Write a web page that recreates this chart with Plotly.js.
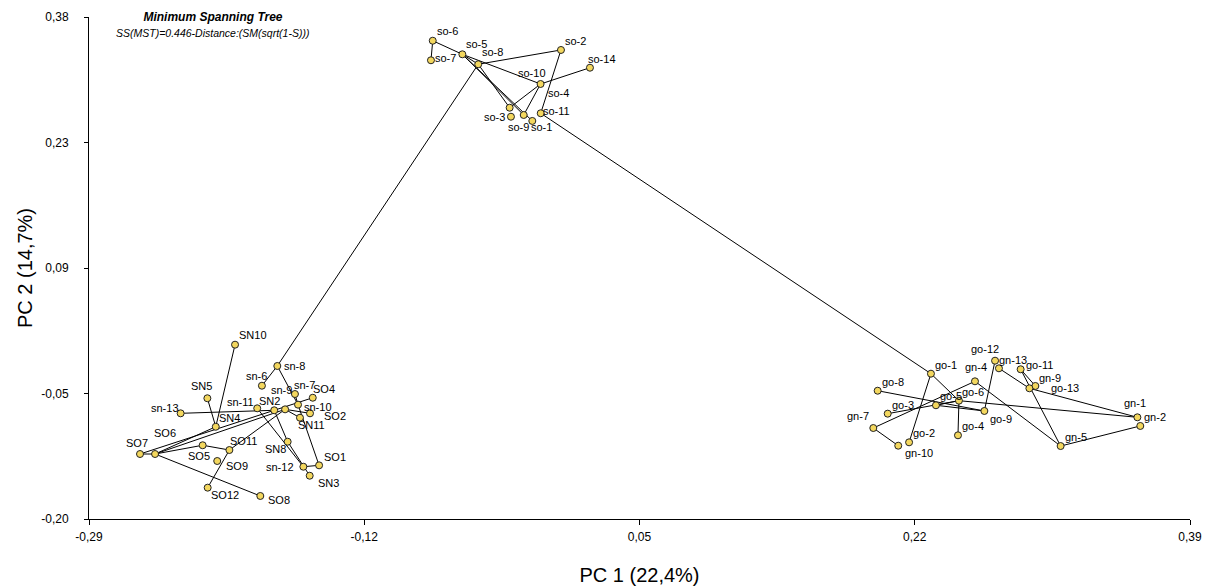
<!DOCTYPE html>
<html>
<head>
<meta charset="utf-8">
<script src="https://cdn.plot.ly/plotly-3.0.1.min.js"></script>
<style>html,body{margin:0;padding:0;background:#fff;}#chart{width:1214px;height:586px;}</style>
</head>
<body>
<div id="chart"></div>
<script>
// ---- data (PC scores) ----
const names = [
  'SN10','sn-8','sn-6','sn-7','SO4','sn-10','SO2','sn-9','SN2','sn-11','SN11','SN8','sn-12','SO1','SN3',
  'SN5','sn-13','SN4','SO7','SO6','SO5','SO11','SO9','SO12','SO8',
  'so-6','so-7','so-5','so-8','so-2','so-14','so-10','so-4','so-3','so-9','so-1','so-11',
  'go-1','go-8','gn-4','go-6','go-5','go-3','gn-7','go-9','go-4','go-2','gn-10','go-12','gn-13','go-11','gn-9','go-13','gn-1','gn-2','gn-5'
];
const pc1 = [
  -0.1998,-0.1737,-0.1832,-0.1628,-0.1518,-0.1609,-0.1535,-0.1689,-0.1756,-0.1861,-0.1597,-0.1673,-0.1576,-0.1479,-0.1537,
  -0.2169,-0.2334,-0.2117,-0.2585,-0.2492,-0.2198,-0.2033,-0.2108,-0.2167,-0.1842,
  -0.0777,-0.0788,-0.0594,-0.0496,0.0015,0.0194,-0.0111,-0.0302,-0.0294,-0.0215,-0.0162,-0.0110,
  0.2300,0.1971,0.2572,0.2473,0.2331,0.2033,0.1944,0.2630,0.2467,0.2165,0.2098,0.2696,0.2720,0.2854,0.2945,0.2908,0.3575,0.3593,0.3101
];
const pc2 = [
  0.0014,-0.0232,-0.0460,-0.0556,-0.0599,-0.0679,-0.0779,-0.0733,-0.0744,-0.0721,-0.0830,-0.1107,-0.1396,-0.1380,-0.1500,
  -0.0605,-0.0779,-0.0934,-0.1249,-0.1249,-0.1148,-0.1203,-0.1330,-0.1638,-0.1734,
  0.3526,0.3300,0.3369,0.3254,0.3419,0.3214,0.3026,0.2752,0.2648,0.2668,0.2599,0.2688,
  -0.0321,-0.0518,-0.0409,-0.0633,-0.0686,-0.0783,-0.0949,-0.0752,-0.1033,-0.1114,-0.1153,-0.0171,-0.0259,-0.0270,-0.0463,-0.0490,-0.0825,-0.0925,-0.1157
];
// minimum spanning tree links
const edgeFrom = [
  'so-6','so-6','so-5','so-5','so-8','so-5','so-5','so-8','so-10','so-10','so-10','so-2','so-11','so-8',
  'sn-8','sn-8','sn-10','SN10','SN5','sn-13','SO7','SO7','SO6','SO6','SO6','SO5','SO11','SO11','SO6','SN2','sn-9','sn-10','SN2','SN8','sn-11','sn-12','sn-9',
  'go-1','go-1','go-8','go-3','go-5','go-5','gn-7','gn-7','gn-4','go-6','go-9','go-6','gn-13','go-11','go-11','go-13','gn-2'
];
const edgeTo = [
  'so-7','so-5','so-10','so-8','so-2','so-9','so-1','so-4','so-4','so-9','so-14','so-11','go-1','sn-8',
  'sn-6','sn-10','sn-7','SN4','SN4','SN2','SO6','SN2','sn-9','SN4','SO5','SO11','SO12','sn-9','SO8','SO4','SO2','SO1','SN8','SN3','sn-12','SO1','SN11',
  'go-6','go-2','go-9','go-6','go-9','go-6','gn-4','gn-10','gn-5','go-4','go-12','gn-1','go-13','gn-9','gn-5','gn-1','gn-5'
];
// tick labels
const xTickVals = [-0.29, -0.12, 0.05, 0.22, 0.39];
const xTickText = ['-0,29', '-0,12', '0,05', '0,22', '0,39'];
const yTickVals = [-0.20, -0.055, 0.09, 0.235, 0.38];
const yTickText = ['-0,20', '-0,05', '0,09', '0,23', '0,38'];

// ---- label placement (pixel offsets from each point, style only) ----
const labelDx = [
  18,17,-5,10,11,20,25,-4,-5,-17,12,-12,-23,16,19,
  -6,-16,14,-3,10,-4,14,20,17,19,
  15,15,14,14,15,12,-9,49,-16,-5,9,16,
  15,15,1,14,15,15,-15,17,15,15,21,-10,14,19,15,36,-2,15,15
];
const labelDy = [
  -10,0,-10,-9,-9,2,3,-19,-9,-6,7,7,0,-8,7,
  -12,-5,-9,-11,-21,11,-9,5,7,4,
  -10,-2,-10,-12,-9,-9,-11,-15,0,12,6,-2,
  -9,-9,-14,-9,-9,-9,-12,8,-9,-9,7,-12,-8,-4,-8,0,-14,-9,-9
];

const idx = {};
names.forEach((n, i) => idx[n] = i);
const ex = [], ey = [];
edgeFrom.forEach((a, k) => {
  const b = edgeTo[k];
  ex.push(pc1[idx[a]], pc1[idx[b]], null);
  ey.push(pc2[idx[a]], pc2[idx[b]], null);
});

const FONT = 'Liberation Sans, Arial, sans-serif';
const traces = [
  {x: ex, y: ey, type: 'scatter', mode: 'lines', line: {color: '#000', width: 1}, hoverinfo: 'skip', showlegend: false},
  {x: pc1, y: pc2, text: names, type: 'scatter', mode: 'markers',
   marker: {size: 7, color: '#F3D75E', line: {color: '#222', width: 1}}, showlegend: false, hoverinfo: 'text'}
];

const annotations = names.map((n, i) => ({
  x: pc1[i], y: pc2[i], xref: 'x', yref: 'y', text: n, showarrow: false,
  xshift: labelDx[i], yshift: -labelDy[i], font: {family: FONT, size: 11, color: '#000'}
}));
annotations.push({
  xref: 'paper', yref: 'paper', x: 0.1126, y: 0.968, xanchor: 'center', yanchor: 'middle', showarrow: false,
  text: '<i>SS(MST)=0.446-Distance:(SM(sqrt(1-S)))</i>', font: {family: FONT, size: 10.5, color: '#000'}
});

const layout = {
  width: 1214, height: 586,
  margin: {l: 89, r: 24, t: 17, b: 67},
  paper_bgcolor: '#fff', plot_bgcolor: '#fff',
  font: {family: FONT, color: '#000'},
  title: {text: '<b><i>Minimum Spanning Tree</i></b>', font: {family: FONT, size: 12, color: '#000'},
          x: 0.1126, xref: 'paper', xanchor: 'center', y: 1 - 17/586, yref: 'container', yanchor: 'middle'},
  xaxis: {
    range: [-0.29, 0.39], tickvals: xTickVals, ticktext: xTickText,
    showline: true, linecolor: '#000', linewidth: 1, ticks: 'outside', ticklen: 5, tickcolor: '#000',
    showgrid: false, zeroline: false, tickfont: {family: FONT, size: 12, color: '#000'}, ticklabelstandoff: 2,
    title: {text: 'PC 1 (22,4%)', font: {family: FONT, size: 20, color: '#000'}, standoff: 24},
    automargin: false
  },
  yaxis: {
    range: [-0.20, 0.38], tickvals: yTickVals, ticktext: yTickText,
    showline: true, linecolor: '#000', linewidth: 1, ticks: 'outside', ticklen: 4, tickcolor: '#000',
    showgrid: false, zeroline: false, tickfont: {family: FONT, size: 12, color: '#000'}, ticklabelstandoff: 13,
    title: {text: 'PC 2 (14,7%)', font: {family: FONT, size: 20, color: '#000'}, standoff: 3},
    automargin: false
  },
  annotations: annotations
};
Plotly.newPlot('chart', traces, layout, {displayModeBar: false, staticPlot: true});
</script>
</body>
</html>
